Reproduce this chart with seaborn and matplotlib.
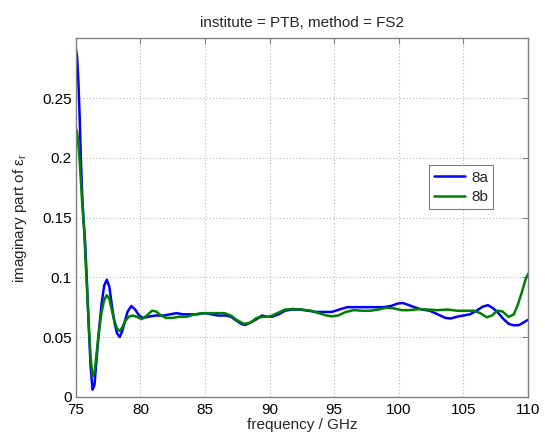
import numpy as np
import pandas as pd
import matplotlib
matplotlib.use("Agg")
import matplotlib.pyplot as plt
import seaborn as sns

# Sample 8a: imaginary part of relative permittivity vs frequency (GHz)
freq_8a = [75.0, 75.1, 75.2, 75.3, 75.4, 75.5, 75.6, 75.72, 75.85, 76.0, 76.15, 76.3,
           76.45, 76.6, 76.75, 77.0, 77.2, 77.4, 77.6, 77.8, 78.0, 78.2, 78.4, 78.6,
           78.8, 79.0, 79.3, 79.6, 79.9, 80.2, 80.6, 81.2, 81.8, 82.3, 82.8, 83.3,
           83.8, 84.4, 85.0, 85.5, 86.0, 86.6, 87.0, 87.4, 87.8, 88.1, 88.5, 89.0,
           89.4, 89.8, 90.2, 90.7, 91.2, 91.7, 92.3, 93.0, 93.6, 94.2, 94.8, 95.4,
           96.0, 96.6, 97.3, 98.0, 98.8, 99.4, 99.9, 100.3, 100.7, 101.2, 101.8,
           102.4, 103.0, 103.6, 104.0, 104.5, 105.0, 105.5, 106.0, 106.5, 106.9,
           107.3, 107.7, 108.1, 108.5, 108.9, 109.3, 109.7, 110.0]
eps_8a = [0.292, 0.285, 0.265, 0.235, 0.198, 0.168, 0.148, 0.130, 0.100, 0.060, 0.025, 0.006,
          0.010, 0.030, 0.050, 0.078, 0.093, 0.098, 0.092, 0.076, 0.062, 0.053, 0.050, 0.055,
          0.063, 0.071, 0.076, 0.073, 0.068, 0.066, 0.067, 0.068, 0.068, 0.069, 0.070, 0.069,
          0.069, 0.069, 0.070, 0.069, 0.068, 0.068, 0.067, 0.064, 0.061, 0.060, 0.062, 0.065,
          0.068, 0.067, 0.067, 0.069, 0.072, 0.073, 0.073, 0.072, 0.071, 0.071, 0.071, 0.073,
          0.075, 0.075, 0.075, 0.075, 0.075, 0.076, 0.078, 0.0785, 0.077, 0.075, 0.073,
          0.072, 0.069, 0.066, 0.0655, 0.067, 0.068, 0.069, 0.072, 0.0755, 0.0767,
          0.074, 0.070, 0.065, 0.061, 0.0598, 0.060, 0.0625, 0.0645]

# Sample 8b
freq_8b = [75.0, 75.1, 75.2, 75.3, 75.4, 75.5, 75.65, 75.8, 76.0, 76.15, 76.3, 76.45,
           76.6, 76.8, 77.0, 77.2, 77.4, 77.6, 77.8, 78.0, 78.2, 78.4, 78.6, 78.8,
           79.1, 79.4, 79.7, 80.1, 80.5, 80.9, 81.2, 81.6, 82.0, 82.5, 83.0, 83.6,
           84.2, 84.8, 85.4, 86.0, 86.5, 87.0, 87.5, 88.0, 88.5, 89.0, 89.5, 90.0,
           90.6, 91.2, 91.8, 92.5, 93.2, 93.8, 94.4, 94.8, 95.3, 95.9, 96.5, 97.2,
           97.8, 98.4, 99.0, 99.6, 100.2, 100.8, 101.5, 102.2, 103.0, 103.8, 104.5,
           105.2, 105.8, 106.3, 106.8, 107.2, 107.6, 108.0, 108.5, 108.9, 109.2,
           109.5, 109.8, 110.0]
eps_8b = [0.225, 0.222, 0.212, 0.198, 0.180, 0.162, 0.140, 0.105, 0.062, 0.033, 0.017, 0.020,
          0.035, 0.055, 0.071, 0.081, 0.085, 0.082, 0.072, 0.063, 0.057, 0.055, 0.058, 0.063,
          0.067, 0.068, 0.067, 0.065, 0.068, 0.072, 0.0715, 0.068, 0.066, 0.066, 0.067, 0.067,
          0.069, 0.070, 0.070, 0.070, 0.070, 0.068, 0.064, 0.061, 0.062, 0.066, 0.067, 0.067,
          0.070, 0.073, 0.0735, 0.073, 0.072, 0.070, 0.068, 0.0673, 0.068, 0.071, 0.0725, 0.072,
          0.072, 0.073, 0.0745, 0.074, 0.0725, 0.0725, 0.0733, 0.073, 0.0725, 0.073, 0.072,
          0.072, 0.072, 0.070, 0.0665, 0.068, 0.072, 0.0715, 0.0668, 0.069, 0.077,
          0.087, 0.098, 0.103]

samples = ["8a", "8b"]
x_ticks = [75, 80, 85, 90, 95, 100, 105, 110]
y_ticks = [0, 0.05, 0.1, 0.15, 0.2, 0.25]
y_tick_labels = ["0", "0.05", "0.1", "0.15", "0.2", "0.25"]

df = pd.concat([
    pd.DataFrame({"frequency": freq_8a, "eps_imag": eps_8a, "sample": "8a"}),
    pd.DataFrame({"frequency": freq_8b, "eps_imag": eps_8b, "sample": "8b"}),
], ignore_index=True)

sns.set_style("white")
plt.rcParams["font.family"] = ["Liberation Sans", "DejaVu Sans"]
plt.rcParams["mathtext.fontset"] = "custom"
plt.rcParams["mathtext.rm"] = "Liberation Sans"

fig = plt.figure(figsize=(5.45, 4.36), dpi=100)
ax = fig.add_axes([0.139, 0.090, 0.830, 0.822])

palette = {"8a": "#0000ff", "8b": "#008000"}
sns.lineplot(data=df, x="frequency", y="eps_imag", hue="sample", hue_order=samples,
             palette=palette, linewidth=1.8, sort=False, estimator=None, ax=ax)

ax.set_xlim(75, 110)
ax.set_ylim(0, 0.3)
ax.set_xticks(x_ticks)
ax.set_xticklabels([str(t) for t in x_ticks])
ax.set_yticks(y_ticks)
ax.set_yticklabels(y_tick_labels)

ax.grid(True, linestyle=(0, (1, 2)), color="#b8b8b8", linewidth=0.8)
for s in ax.spines.values():
    s.set_color("#808080")
    s.set_linewidth(1.0)
ax.tick_params(direction="in", length=4, width=0.8, color="#808080",
               top=True, right=True, labelsize=11, labelcolor="black")
ax.tick_params(axis="x", pad=4.5)
ax.tick_params(axis="y", pad=3)

ax.set_xlabel("frequency / GHz", fontsize=11, labelpad=1)
ax.set_ylabel("imaginary part of ε$_\\mathregular{r}$", fontsize=11, labelpad=9)
ax.set_title("institute = PTB, method = FS2", fontsize=11, pad=8)

leg = ax.legend(loc="upper left", bbox_to_anchor=(0.781, 0.646), fontsize=11,
                frameon=True, fancybox=False, handlelength=2.0, handletextpad=0.4,
                borderpad=0.35, labelspacing=0.35, borderaxespad=0)
leg.get_frame().set_edgecolor("#606060")
leg.get_frame().set_linewidth(0.8)
leg.set_title(None)

fig.savefig("out.png", dpi=100)
